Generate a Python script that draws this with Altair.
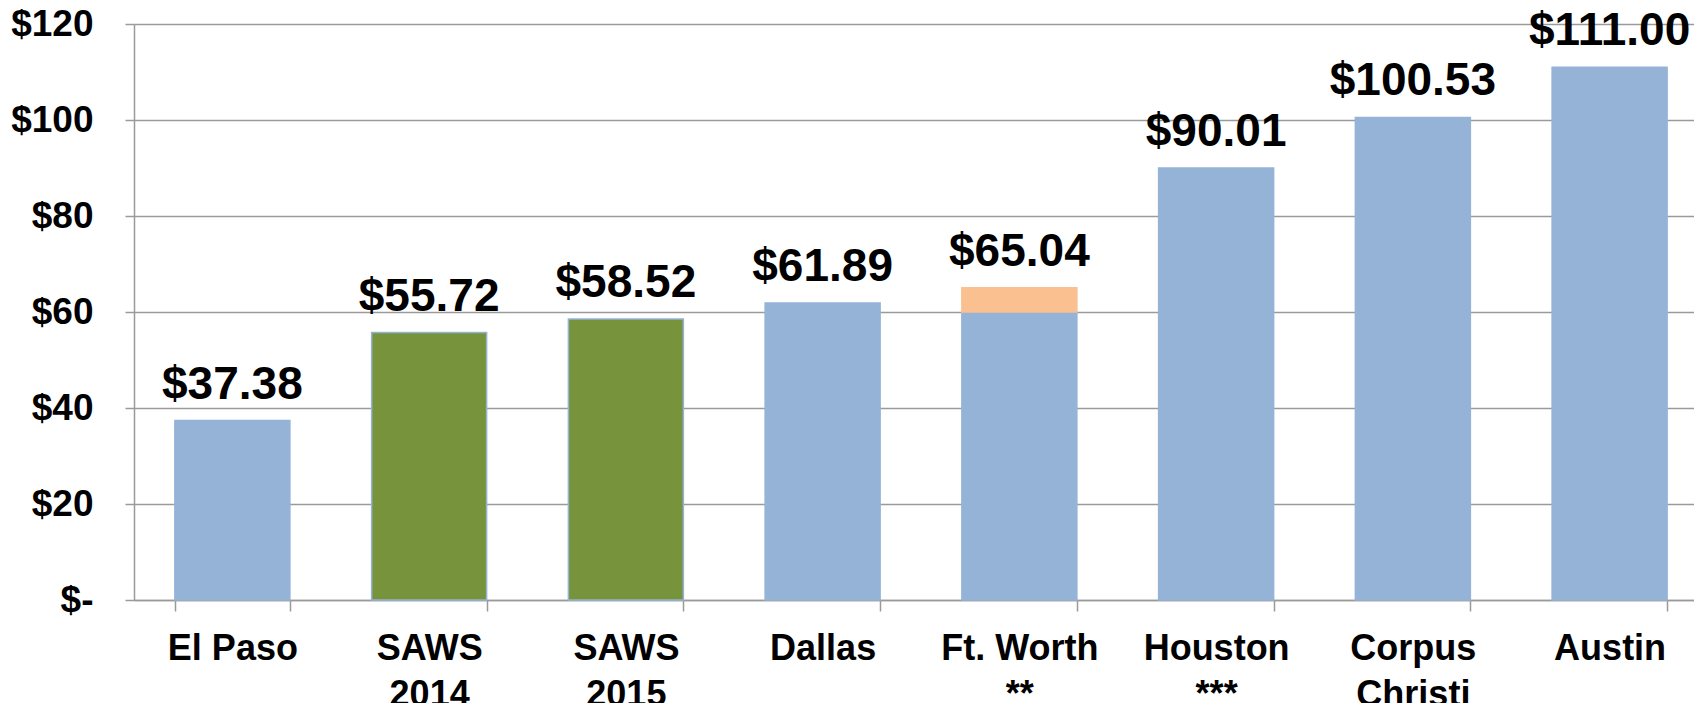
import altair as alt
import pandas as pd

categories = ["El Paso", "SAWS\n2014", "SAWS\n2015", "Dallas", "Ft. Worth\n**",
              "Houston\n***", "Corpus\nChristi", "Austin"]
groups = ["City", "SAWS", "SAWS", "City", "City", "City", "City", "City"]
base_values = [37.38, 55.72, 58.52, 61.89, 60.00, 90.01, 100.53, 111.00]
extra_values = [0, 0, 0, 0, 5.04, 0, 0, 0]
totals = [37.38, 55.72, 58.52, 61.89, 65.04, 90.01, 100.53, 111.00]
value_labels = ["$37.38", "$55.72", "$58.52", "$61.89", "$65.04", "$90.01", "$100.53", "$111.00"]
y_ticks = [0, 20, 40, 60, 80, 100, 120]

rows = []
for c, g, b, e in zip(categories, groups, base_values, extra_values):
    rows.append({"cat": c, "group": g, "value": b, "ord": 0})
    if e > 0:
        rows.append({"cat": c, "group": "Extra", "value": e, "ord": 1})
bars_df = pd.DataFrame(rows)
labels_df = pd.DataFrame({"cat": categories, "total": totals, "label": value_labels})

FONT = "Liberation Sans"
GRAY = "#9a9a9a"

xscale = alt.Scale(domain=categories, range=[0, 1574], paddingInner=0.4155, paddingOuter=0.2078)
yscale = alt.Scale(domain=[0, 120], nice=False, zero=True)

x_enc = alt.X("cat:N", sort=categories, scale=xscale,
              axis=alt.Axis(title=None, labelAngle=0, labelExpr="split(datum.label, '\\n')",
                            tickBand="extent", tickSize=11, tickColor=GRAY, tickWidth=1.5,
                            domainColor=GRAY, domainWidth=1.5, labelFont=FONT, labelFontSize=36,
                            labelFontWeight="bold", labelColor="black", labelPadding=20,
                            labelLineHeight=46, grid=False, labelOverlap=False))

bars = alt.Chart(bars_df).mark_bar(strokeWidth=1.5).encode(
    x=x_enc,
    y=alt.Y("value:Q", stack="zero", scale=yscale,
            axis=alt.Axis(title=None, values=y_ticks,
                          labelExpr="datum.value == 0 ? '$-' : '$' + datum.value",
                          grid=True, gridColor=GRAY, gridWidth=1.5, tickSize=9,
                          tickColor=GRAY, tickWidth=1.5, domainColor=GRAY, domainWidth=1.5,
                          labelFont=FONT, labelFontSize=37, labelFontWeight="bold",
                          labelColor="black", labelPadding=32)),
    color=alt.Color("group:N", legend=None,
                    scale=alt.Scale(domain=["City", "SAWS", "Extra"],
                                    range=["#95B3D7", "#77933C", "#FAC090"])),
    stroke=alt.Stroke("group:N", legend=None,
                      scale=alt.Scale(domain=["City", "SAWS", "Extra"],
                                      range=["#95B3D7", "#95B3D7", "#FAC090"])),
    order=alt.Order("ord:Q"),
)

texts = alt.Chart(labels_df).mark_text(font=FONT, fontSize=46, fontWeight="bold",
                                       baseline="alphabetic", dy=-22, color="black").encode(
    x=alt.X("cat:N", sort=categories, scale=xscale),
    y=alt.Y("total:Q", scale=yscale),
    text="label:N",
)

chart = alt.layer(bars, texts).properties(
    width=1560, height=576,
    autosize=alt.AutoSizeParams(type="none"),
    padding={"left": 134, "top": 24, "right": 0, "bottom": 103},
).configure_view(strokeWidth=0).configure(background="white")

chart.save("out.html", embed_options={"renderer": "svg", "actions": False})
